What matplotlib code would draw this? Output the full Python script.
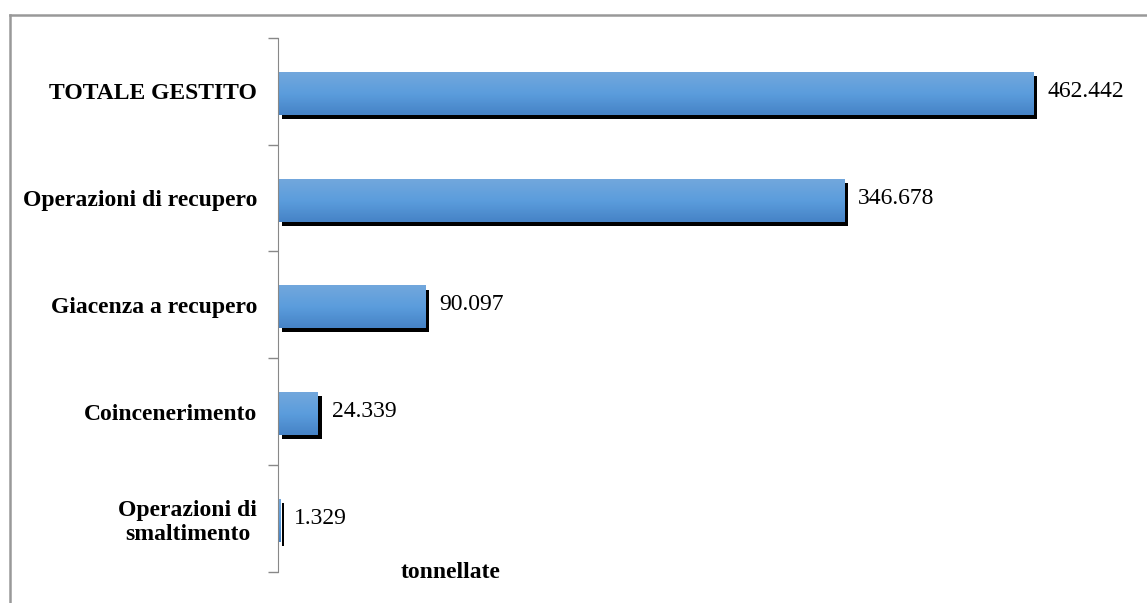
import numpy as np
import matplotlib.pyplot as plt
import matplotlib.transforms as mtransforms
from matplotlib.colors import LinearSegmentedColormap
from matplotlib.lines import Line2D

# Data ------------------------------------------------------------------
categories = ['TOTALE GESTITO', 'Operazioni di recupero', 'Giacenza a recupero',
              'Coincenerimento', 'Operazioni di\nsmaltimento']
values = [462.442, 346.678, 90.097, 24.339, 1.329]
value_labels = ['462.442', '346.678', '90.097', '24.339', '1.329']

plt.rcParams['font.family'] = ['Liberation Serif', 'DejaVu Serif']

fig = plt.figure(figsize=(11.47, 6.03), dpi=100)
ax = fig.add_axes([0.2424, 0.0514, 0.712, 0.886])

# vertical gradient for the bars (light top, darker bottom)
grad = LinearSegmentedColormap.from_list('g', ['#4683c6', '#5b9ddd', '#72a7dc'])
ypos = np.arange(len(categories))
h = 0.4

# black shadow, shifted a few pixels right and down
shadow = mtransforms.ScaledTranslation(4 / 100, -4 / 100, fig.dpi_scale_trans)
ax.barh(ypos + 0.02, values, height=h, color='black', zorder=1,
        transform=ax.transData + shadow)

for y, v in zip(ypos, values):
    img = np.linspace(0, 1, 50).reshape(-1, 1)
    ax.imshow(img, cmap=grad, aspect='auto', origin='lower',
              extent=[0, v, y + 0.02 + h / 2, y + 0.02 - h / 2], zorder=2)

for y, v, lab in zip(ypos, values, value_labels):
    ax.annotate(lab, (v, y), xytext=(10, 0), textcoords='offset points',
                va='center', ha='left', fontsize=17, color='black')

ax.set_xlim(0, 500)
ax.set_ylim(len(categories) - 0.5, -0.5)

ax.set_yticks(ypos)
ax.set_yticklabels(categories, fontsize=17, fontweight='bold', color='black')
for t in ax.get_yticklabels():
    t.set_multialignment('center')
ax.tick_params(axis='y', which='major', length=0, pad=15)
ax.set_yticks(np.arange(-0.5, len(categories)), minor=True)
ax.tick_params(axis='y', which='minor', length=7, color='#888888', width=1)
ax.set_xticks([])

for s in ['top', 'right', 'bottom']:
    ax.spines[s].set_visible(False)
ax.spines['left'].set_color('#888888')

fig.text(451 / 1147, 1 - 572 / 603, 'tonnellate', fontsize=17, fontweight='bold',
         ha='center', va='center')

# outer frame of the chart area
fig.add_artist(Line2D([10 / 1147, 10 / 1147], [0, 1 - 15 / 603],
                      transform=fig.transFigure, color='#999999', lw=1.8))
fig.add_artist(Line2D([10 / 1147, 1], [1 - 15 / 603, 1 - 15 / 603],
                      transform=fig.transFigure, color='#999999', lw=1.8))

fig.savefig('out.png', dpi=100)
